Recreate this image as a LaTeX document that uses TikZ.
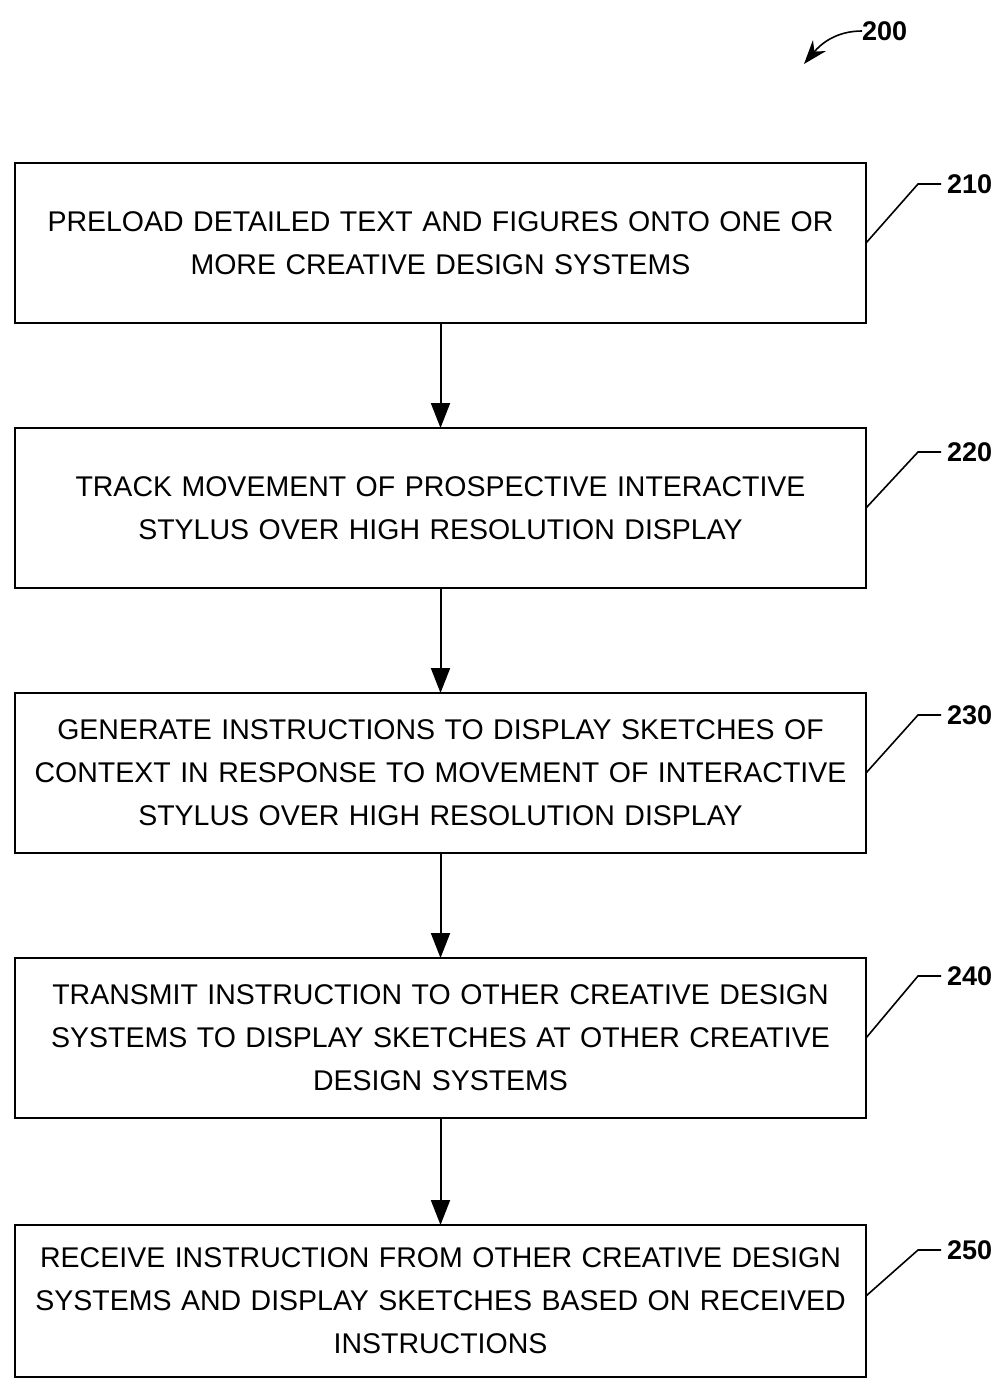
\documentclass[tikz,border=0pt]{standalone}
\usepackage{fontspec}
\setmainfont{Liberation Sans}
\usetikzlibrary{positioning,arrows.meta}

\tikzset{
    stepbox/.style={draw, line width=2pt, minimum width=851pt, minimum height=160pt,
        text width=840pt, align=center, inner sep=0pt, outer sep=0pt,
        font=\fontsize{28.5}{43}\selectfont},
    reflabel/.style={font=\fontsize{27}{30}\selectfont\bfseries, inner sep=0pt, anchor=west},
    leader/.style={line width=1.6pt},
    flow/.style={line width=2pt, -{Triangle[length=25pt,width=19pt]}}
}

\begin{document}
\begin{tikzpicture}[x=1pt,y=-1pt]
    \useasboundingbox (0,0) rectangle (1004,1381);

    \node[stepbox] (b210) at (440.5,243)
        {PRELOAD DETAILED TEXT AND FIGURES ONTO ONE OR\\ MORE CREATIVE DESIGN SYSTEMS};
    \node[stepbox, below=105pt of b210] (b220)
        {TRACK MOVEMENT OF PROSPECTIVE INTERACTIVE\\ STYLUS OVER HIGH RESOLUTION DISPLAY};
    \node[stepbox, below=105pt of b220] (b230)
        {GENERATE INSTRUCTIONS TO DISPLAY SKETCHES OF\\ CONTEXT IN RESPONSE TO MOVEMENT OF INTERACTIVE\\ STYLUS OVER HIGH RESOLUTION DISPLAY};
    \node[stepbox, below=105pt of b230] (b240)
        {TRANSMIT INSTRUCTION TO OTHER CREATIVE DESIGN\\ SYSTEMS TO DISPLAY SKETCHES AT OTHER CREATIVE\\ DESIGN SYSTEMS};
    \node[stepbox, minimum height=152pt, below=107pt of b240] (b250)
        {RECEIVE INSTRUCTION FROM OTHER CREATIVE DESIGN\\ SYSTEMS AND DISPLAY SKETCHES BASED ON RECEIVED\\ INSTRUCTIONS};

    % arrows between the steps
    \draw[flow] (b210.south) -- (b220.north);
    \draw[flow] (b220.south) -- (b230.north);
    \draw[flow] (b230.south) -- (b240.north);
    \draw[flow] (b240.south) -- (b250.north);

    % reference numerals
    \node[reflabel] (n200) at (862,31) {200};
    \coordinate (tip200) at (804,64);
    \draw[line width=1.6pt, -{Stealth[length=24pt,width=17pt]}] (n200.west) to[out=180,in=50] (tip200);

    \node[reflabel] (n210) at (947,184) {210};
    \node[reflabel] (n220) at (947,452) {220};
    \node[reflabel] (n230) at (947,715) {230};
    \node[reflabel] (n240) at (947,976) {240};
    \node[reflabel] (n250) at (947,1250) {250};

    \draw[leader] (b210.east) -- ([xshift=-29pt]n210.west) -- ([xshift=-6pt]n210.west);
    \draw[leader] (b220.east) -- ([xshift=-29pt]n220.west) -- ([xshift=-6pt]n220.west);
    \draw[leader] (b230.east) -- ([xshift=-29pt]n230.west) -- ([xshift=-6pt]n230.west);
    \draw[leader] (b240.east) -- ([xshift=-29pt]n240.west) -- ([xshift=-6pt]n240.west);
    \draw[leader] ([yshift=5pt]b250.east) -- ([xshift=-29pt]n250.west) -- ([xshift=-6pt]n250.west);
\end{tikzpicture}
\end{document}
